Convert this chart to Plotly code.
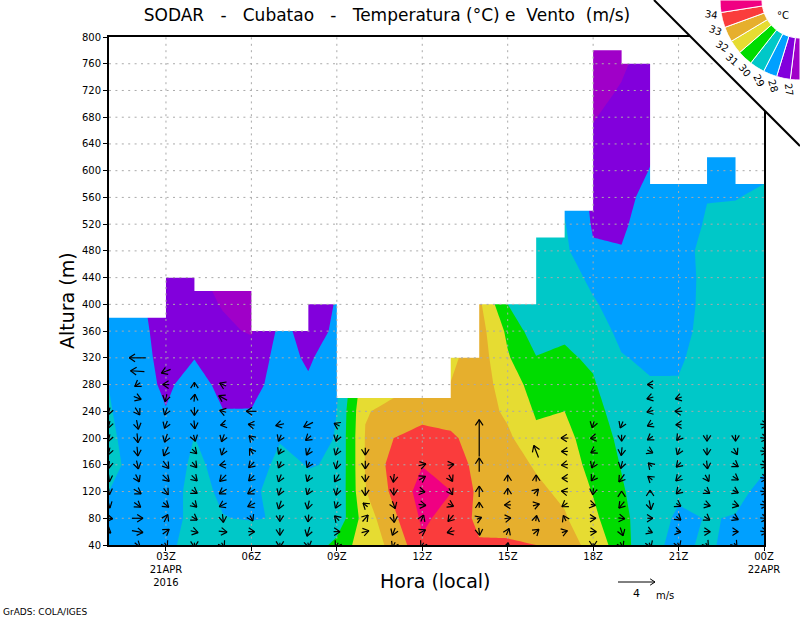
import math
import plotly.graph_objects as go

# 20 m wind / 40 m temperature levels, hourly columns (01Z .. 24Z)
hours = list(range(1, 25))
levels = list(range(40, 801, 40))
wind_levels = list(range(40, 321, 20))

# top of valid data for each hour interval (01-02 .. 23-24)
data_top = [380, 380, 440, 420, 420, 360, 360, 400, 260, 260, 260, 260,
            320, 400, 400, 500, 540, 780, 760, 580, 580, 620, 580]

# temperature per hour, from 40 m up to 800 m
t01 = [28.7, 28.8, 29.0, 29.4, 29.25, 29.1, 28.98, 28.6, 28.4, 28.3, 28.2, 28.2, 28.2, 28.2, 28.2, 28.2, 28.2, 28.2, 28.2, 28.2]
t02 = [28.6, 28.6, 28.6, 28.5, 28.4, 28.3, 28.3, 28.3, 28.3, 28.2, 28.1, 28.0, 28.0, 28.0, 28.0, 28.0, 28.0, 28.0, 28.0, 28.0]
t03 = [28.75, 28.7, 28.7, 28.7, 28.5, 28.03, 27.87, 27.75, 27.6, 27.5, 27.4, 27.3, 27.3, 27.3, 27.3, 27.3, 27.3, 27.3, 27.3, 27.3]
t04 = [29.4, 29.2, 29.2, 29.1, 29.01, 28.6, 28.3, 27.98, 27.6, 27.4, 27.2, 27.1, 27.1, 27.1, 27.1, 27.1, 27.1, 27.1, 27.1, 27.1]
t05 = [29.4, 29.02, 28.9, 28.85, 28.6, 28.02, 27.8, 27.6, 27.2, 26.93, 26.7, 26.6, 26.6, 26.6, 26.6, 26.6, 26.6, 26.6, 26.6, 26.6]
t06 = [29.5, 28.95, 28.9, 28.6, 28.4, 28.03, 27.75, 27.5, 26.9, 26.7, 26.6, 26.6, 26.6, 26.6, 26.6, 26.6, 26.6, 26.6, 26.6, 26.6]
t07 = [29.4, 29.05, 29.2, 29.2, 28.95, 28.6, 28.3, 28.27, 28.2, 28.0, 27.8, 27.8, 27.8, 27.8, 27.8, 27.8, 27.8, 27.8, 27.8, 27.8]
t08 = [29.3, 29.2, 29.15, 28.97, 28.6, 28.3, 28.1, 27.9, 27.75, 27.6, 27.5, 27.5, 27.5, 27.5, 27.5, 27.5, 27.5, 27.5, 27.5, 27.5]
t09 = [30.3, 29.3, 29.1, 29.05, 29.05, 29.0, 28.8, 28.4, 28.1, 28.05, 28.0, 28.0, 28.0, 28.0, 28.0, 28.0, 28.0, 28.0, 28.0, 28.0]
t10 = [31.6, 31.5, 31.95, 32.05, 32.05, 31.95, 31.6, 31.3, 31.2, 31.0, 31.0, 31.0, 31.0, 31.0, 31.0, 31.0, 31.0, 31.0, 31.0, 31.0]
t11 = [32.2, 32.8, 33.23, 33.4, 33.0, 32.2, 31.8, 31.6, 31.4, 31.2, 31.0, 31.0, 31.0, 31.0, 31.0, 31.0, 31.0, 31.0, 31.0, 31.0]
t12 = [33.9, 34.15, 34.4, 33.97, 33.3, 32.7, 32.3, 32.0, 31.8, 31.5, 31.3, 31.3, 31.3, 31.3, 31.3, 31.3, 31.3, 31.3, 31.3, 31.3]
t13 = [33.3, 33.7, 34.02, 33.6, 33.15, 32.6, 32.02, 31.8, 31.8, 31.6, 31.4, 31.4, 31.4, 31.4, 31.4, 31.4, 31.4, 31.4, 31.4, 31.4]
t14 = [33.1, 32.75, 32.75, 32.65, 32.6, 32.5, 32.5, 32.5, 32.4, 32.2, 32.0, 32.0, 32.0, 32.0, 32.0, 32.0, 32.0, 32.0, 32.0, 32.0]
t15 = [33.1, 32.7, 32.5, 32.4, 32.2, 31.8, 31.5, 31.1, 30.8, 30.0, 29.6, 29.4, 29.4, 29.4, 29.4, 29.4, 29.4, 29.4, 29.4, 29.4]
t16 = [33.0, 32.5, 32.2, 31.9, 31.2, 30.9, 30.6, 30.05, 29.4, 29.4, 29.3, 29.3, 29.2, 29.0, 29.0, 29.0, 29.0, 29.0, 29.0, 29.0]
t17 = [32.4, 32.1, 31.8, 31.5, 31.3, 31.0, 30.8, 30.15, 29.85, 29.6, 29.4, 29.2, 29.05, 28.85, 28.7, 28.7, 28.7, 28.7, 28.7, 28.7]
t18 = [31.7, 31.2, 30.95, 30.7, 30.5, 30.3, 30.1, 29.85, 29.4, 29.1, 28.8, 28.1, 27.9, 27.8, 27.6, 27.2, 26.95, 26.8, 26.7, 26.6]
t19 = [30.4, 30.3, 30.1, 29.95, 29.8, 29.6, 29.3, 29.05, 28.8, 28.6, 28.3, 28.03, 27.9, 27.8, 27.7, 27.5, 27.3, 27.05, 26.9, 26.8]
t20 = [29.2, 29.3, 29.4, 29.4, 29.4, 29.3, 29.07, 28.85, 28.7, 28.6, 28.5, 28.4, 28.3, 28.2, 28.02, 27.9, 27.7, 27.5, 27.3, 27.2]
t21 = [28.8, 28.9, 29.1, 29.2, 29.3, 29.2, 29.05, 28.9, 28.8, 28.7, 28.7, 28.6, 28.5, 28.4, 28.3, 28.2, 28.2, 28.2, 28.2, 28.2]
t22 = [29.15, 29.02, 29.2, 29.3, 29.3, 29.3, 29.3, 29.3, 29.2, 29.2, 29.18, 29.3, 29.1, 28.97, 28.6, 28.3, 28.3, 28.3, 28.3, 28.3]
t23 = [28.7, 28.98, 29.1, 29.3, 29.3, 29.3, 29.3, 29.3, 29.3, 29.3, 29.3, 29.2, 29.15, 28.98, 28.7, 28.5, 28.5, 28.5, 28.5, 28.5]
t24 = [28.5, 28.7, 28.9, 29.05, 29.2, 29.2, 29.2, 29.2, 29.2, 29.2, 29.2, 29.2, 29.2, 29.1, 28.9, 28.7, 28.7, 28.7, 28.7, 28.7]
temp_by_hour = [t01, t02, t03, t04, t05, t06, t07, t08, t09, t10, t11, t12,
                t13, t14, t15, t16, t17, t18, t19, t20, t21, t22, t23, t24]

# wind per hour, from 40 m up to 320 m every 20 m (m/s)
N = None
wind_u = [
    [N, .4, .8, .2, .1, .1, -.1, -.2, -.2, -.2, -.2, N, N, N, N],
    [.6, 1.2, 1.2, .7, .8, .4, .2, .1, .1, .2, .5, .8, -.6, -1.5, -1.8],
    [.3, .7, .4, .6, .5, .7, .6, -.5, -.3, -.3, -.3, -.2, -.7, -1, N],
    [0, .8, .6, .5, .6, .6, .5, .5, .2, .1, 0, .1, 0, N, N],
    [.3, .9, .1, -.8, -.8, -.7, -.7, -.3, -.3, -.5, -.7, -.9, -.7, N, N],
    [N, .7, .3, -.8, -.8, -.6, -.6, -.4, -.5, -.7, -1.1, N, N, N, N],
    [0, 0, 0, -.3, -.3, -.3, -.3, -.3, -.3, -.9, N, N, N, N, N],
    [.1, -.3, -.1, -.2, -.3, -.3, -.3, -.4, -.6, -1.0, N, N, N, N, N],
    [-.3, .7, -.5, -.3, -.2, -.5, -.2, -.3, -.2, -.6, N, N, N, N, N],
    [N, .8, .6, -.5, 0, 0, 0, 0, N, N, N, N, N, N, N],
    [-.3, -.3, .1, .3, 0, -.1, N, N, N, N, N, N, N, N, N],
    [-.3, .7, .3, .8, .6, .7, .8, N, N, N, N, N, N, N, N],
    [N, -.8, -.6, .6, .4, .4, .7, N, N, N, N, N, N, N, N],
    [N, .1, .5, 0, 0, N, 0, N, 0, N, N, N, N, N, N],
    [.1, .3, .7, -.7, 0, 0, N, N, N, N, N, N, N, N, N],
    [N, .6, .1, .7, .5, 0, N, -.5, N, N, N, N, N, N, N],
    [N, .6, -.3, -.6, -.7, -.6, -.7, -.7, -.8, N, N, N, N, N, N],
    [0, .7, .6, .5, -.1, -.4, -.3, -.5, -.6, -.2, N, N, N, N, N],
    [.3, .3, .7, -.6, 0, -.6, -.2, -.1, 0, -.3, N, N, N, N, N],
    [.2, .5, .6, .2, 0, -.5, -.4, .6, -.6, -.6, -.7, -.7, -.6, N, N],
    [.2, .5, .5, .5, -.5, -.6, -.5, -.3, -.4, -.6, -.8, -.7, N, N, N],
    [.3, .7, .6, .7, .6, .4, .1, 0, 0, N, N, N, N, N, N],
    [.3, .6, .6, .7, .6, .6, .6, .4, 0, N, N, N, N, N, N],
    [N, .8, .8, .8, .8, .8, .8, .8, .8, .8, N, N, N, N, N],
]
wind_v = [
    [N, -.3, -.1, -.7, -.7, -.8, -.8, -.8, -.8, -.8, -.8, N, N, N, N],
    [-.5, -.2, 0, -.5, -.5, -.8, -.9, -1, -1, -1, -.8, -.3, -.4, .1, 0],
    [-.5, .5, .8, -.5, -.7, -.7, -.8, -1, -.9, -.8, -.8, -.8, 0, -.4, N],
    [-.5, -.2, -.4, -.5, -.4, -.6, -.6, -.5, -.7, -.9, -.9, .8, .5, N, N],
    [-.5, -.1, -.9, -.4, -.5, -.7, -.1, -.8, -.8, -.1, .2, .5, .3, N, N],
    [N, 0, -.6, -.4, -.5, -.6, -.6, .6, .5, .1, 0, N, N, N, N],
    [-.5, -.8, -.7, -.9, -.8, -.8, -.7, -.6, -.7, -.2, N, N, N, N, N],
    [-.5, -1, -.8, -.9, -.7, -.7, -.6, -.8, -.5, -.5, N, N, N, N, N],
    [-.5, 0, .5, -.7, -.8, -.8, -.9, -.8, -.7, .3, N, N, N, N, N],
    [N, .2, .7, .4, -.9, -.8, -.9, -.8, N, N, N, N, N, N, N],
    [-.6, -.8, -.9, -.8, -.8, -.9, N, N, N, N, N, N, N, N, N],
    [-.5, .4, .7, -.1, -.1, .4, .2, N, N, N, N, N, N, N, N],
    [N, -.2, -.7, -.3, -.7, -.7, .1, N, N, N, N, N, N, N, N],
    [N, -.8, .2, .6, 1.2, N, 1.5, N, 4, N, N, N, N, N, N],
    [.5, .7, .1, 0, .7, .7, N, N, N, N, N, N, N, N, N],
    [N, .5, .6, .2, .5, .7, N, 1.3, N, N, N, N, N, N, N],
    [N, .2, .6, -.4, .1, 0, -.1, 0, 0, N, N, N, N, N, N],
    [-.4, 0, 0, -.1, -.7, -.6, -.7, -.3, -.1, -.7, N, N, N, N, N],
    [-.6, -.9, -.1, -.7, .1, -.8, -.8, -.9, -.7, -.7, N, N, N, N, N],
    [-.5, -.2, 0, -1, .3, .4, .4, -.3, -.4, -.3, -.2, -.2, 0, N, N],
    [-.5, -.1, -.4, -.3, -.5, -.6, -.5, -.7, -.5, 0, 0, -.2, N, N, N],
    [-.4, 0, -.4, -.2, -.4, -.7, -.9, -.8, -.7, N, N, N, N, N, N],
    [-.4, 0, -.3, -.2, -.3, -.4, -.4, -.7, -.7, N, N, N, N, N, N],
    [N, -.1, -.1, -.1, -.1, -.1, -.1, -.1, -.1, -.1, N, N, N, N, N],
]

contour_levels = [27, 28, 29, 30, 31, 32, 33, 34]
level_labels = ["27", "28", "29", "30", "31", "32", "33", "34"]
level_colors = ["#a000c8", "#8200dc", "#00a0ff", "#00c8c8", "#00dc00",
                "#e6dc32", "#e6af2d", "#fa3c3c", "#f00082"]
wedge_edges = [0, 7, 17, 27, 38, 49, 59, 70, 81, 90]

hour_ticks = [3, 6, 9, 12, 15, 18, 21, 24]
hour_labels = ["03Z<br>21APR<br>2016", "06Z", "09Z", "12Z", "15Z", "18Z", "21Z", "00Z<br>22APR"]
height_ticks = list(range(40, 801, 40))

W, H = 800, 618
LEFT, RIGHT, TOP, BOTTOM = 109, 764, 37, 545
PX_PER_HOUR = (RIGHT - LEFT) / 23
PX_PER_M = (BOTTOM - TOP) / 760
PX_PER_MS = 37 / 4
HEAD_ANG = math.radians(33)
FONT = "DejaVu Sans"


def arrow_path(u, v, head_len=7):
    # pixel offsets of one vector around its centre, y upwards
    dx, dy = u * PX_PER_MS, v * PX_PER_MS
    ang = math.atan2(dy, dx)
    pts = [(-dx / 2, -dy / 2), (dx / 2, dy / 2)]
    for s in (1, -1):
        a = ang + math.pi + s * HEAD_ANG
        pts += [(None, None), (dx / 2, dy / 2),
                (dx / 2 + head_len * math.cos(a), dy / 2 + head_len * math.sin(a))]
    pts.append((None, None))
    return pts


fig = go.Figure()

temp_rows = [list(r) for r in zip(*temp_by_hour)]
n = len(contour_levels)
colorscale = [[i / n, c] for i, c in enumerate(level_colors)]
fig.add_trace(go.Contour(
    x=hours, y=levels, z=temp_rows,
    autocontour=False,
    contours=dict(coloring="fill", start=contour_levels[0], end=contour_levels[-1], size=1),
    colorscale=colorscale, showscale=False,
    line=dict(width=0, smoothing=0), hoverinfo="skip",
))

# no data above the top of each hour: white stairs
sx, sy = [1], [830]
for i, t in enumerate(data_top):
    sx += [hours[i], hours[i + 1]]
    sy += [t, t]
sx += [24, 1]
sy += [830, 830]
fig.add_trace(go.Scatter(x=sx, y=sy, mode="lines", fill="toself", fillcolor="white",
                         line=dict(color="white", width=0), hoverinfo="skip"))

# grid goes over the shading
gx, gy = [], []
for t in hour_ticks[:-1]:
    gx += [t, t, None]
    gy += [40, 800, None]
for t in height_ticks[1:-1]:
    gx += [1, 24, None]
    gy += [t, t, None]
fig.add_trace(go.Scatter(x=gx, y=gy, mode="lines", hoverinfo="skip",
                         line=dict(color="#aaaaaa", width=1, dash="2px,4.4px")))

# wind vectors
ax, ay = [], []
for i, h in enumerate(hours):
    for j, m in enumerate(wind_levels):
        u, v = wind_u[i][j], wind_v[i][j]
        if u is None or v is None:
            continue
        for px, py in arrow_path(u, v):
            if px is None:
                ax.append(None)
                ay.append(None)
            else:
                ax.append(h + px / PX_PER_HOUR)
                ay.append(m + py / PX_PER_M)
fig.add_trace(go.Scatter(x=ax, y=ay, mode="lines", hoverinfo="skip",
                         line=dict(color="black", width=1.2)))

# full page subplot in pixels: corner cut and reference vector
fig.add_trace(go.Scatter(x=[654, W, W, 654], y=[0, 146, 0, 0], xaxis="x2", yaxis="y2",
                         mode="lines", fill="toself", fillcolor="white", hoverinfo="skip",
                         line=dict(color="white", width=0)))
fig.add_trace(go.Scatter(x=[654, W], y=[0, 146], xaxis="x2", yaxis="y2", mode="lines",
                         hoverinfo="skip", line=dict(color="black", width=2)))
rx, ry = [], []
for px, py in arrow_path(4, 0, head_len=5.8):
    rx.append(None if px is None else 636.5 + px)
    ry.append(None if py is None else 582 - py)
fig.add_trace(go.Scatter(x=rx, y=ry, xaxis="x2", yaxis="y2", mode="lines",
                         hoverinfo="skip", line=dict(color="black", width=1)))

# colour key
wedge_theta = [270 - (wedge_edges[i] + wedge_edges[i + 1]) / 2 for i in range(len(level_colors))]
wedge_width = [wedge_edges[i + 1] - wedge_edges[i] for i in range(len(level_colors))]
fig.add_trace(go.Barpolar(
    theta=wedge_theta, width=wedge_width, r=[42] * len(level_colors), base=[38] * len(level_colors),
    marker=dict(color=level_colors, line=dict(color="white", width=1)), hoverinfo="skip",
))


def label(x, y, text, size, angle=0):
    return dict(x=x, y=y, xref="x2", yref="y2", text=text, showarrow=False,
                font=dict(family=FONT, size=size, color="black"), textangle=angle,
                xanchor="center", yanchor="middle")


notes = [
    label(435, 581, "Hora (local)", 19),
    label(67, 301, "Altura (m)", 19, -90),
    label(45, 612, "GrADS: COLA/IGES", 9),
    label(636, 593, "4", 11),
    label(665, 595, "m/s", 10),
    label(783, 15, "°C", 10),
]
for lab, a0 in zip(level_labels, wedge_edges[1:]):
    rad = math.radians(a0)
    notes.append(label(W - 90 * math.sin(rad), 90 * math.cos(rad), lab, 10, 90 - a0))

fig.update_layout(
    width=W, height=H,
    margin=dict(l=0, r=0, t=0, b=0, pad=0, autoexpand=False),
    paper_bgcolor="white", plot_bgcolor="rgba(0,0,0,0)",
    showlegend=False,
    font=dict(family=FONT, color="black"),
    title=dict(text="SODAR\u00a0\u00a0 - \u00a0\u00a0Cubatao\u00a0\u00a0 - \u00a0\u00a0Temperatura (°C) e\u00a0 Vento\u00a0 (m/s)",
               x=387 / W, y=1 - 15 / H, xanchor="center", yanchor="middle",
               font=dict(family=FONT, size=17, color="black")),
    xaxis=dict(domain=[LEFT / W, RIGHT / W], range=[1, 24], tickmode="array",
               tickvals=hour_ticks, ticktext=hour_labels, ticks="outside", ticklen=4,
               ticklabelstandoff=-3,
               tickcolor="black", tickfont=dict(family=FONT, size=10), showgrid=False,
               zeroline=False, showline=True, linecolor="black", linewidth=2, mirror=True),
    yaxis=dict(domain=[1 - BOTTOM / H, 1 - TOP / H], range=[40, 800], tickmode="array",
               tickvals=height_ticks, ticks="outside", ticklen=4,
               tickcolor="black", tickfont=dict(family=FONT, size=10), showgrid=False,
               zeroline=False, showline=True, linecolor="black", linewidth=2, mirror=True),
    xaxis2=dict(domain=[0, 1], range=[0, W], visible=False, anchor="y2"),
    yaxis2=dict(domain=[0, 1], range=[H, 0], visible=False, anchor="x2"),
    polar=dict(domain=dict(x=[720 / W, 1], y=[1 - 80 / H, 1]), sector=[180, 270],
               bgcolor="rgba(0,0,0,0)",
               radialaxis=dict(visible=False, range=[0, 80]),
               angularaxis=dict(visible=False)),
    annotations=notes,
)

fig.write_html("out.html", config=dict(displayModeBar=False),
               post_script="document.body.style.margin='0';")
